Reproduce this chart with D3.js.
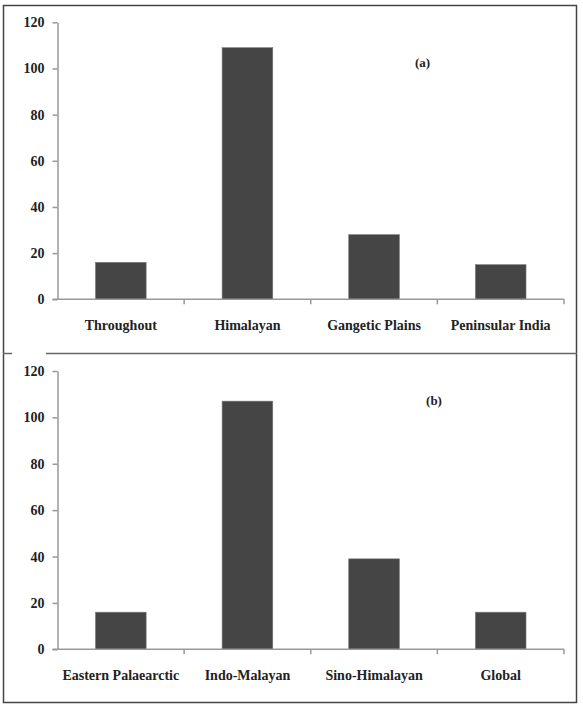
<!DOCTYPE html>
<html>
<head>
<meta charset="utf-8">
<script src="https://cdn.jsdelivr.net/npm/d3@7"></script>
<style>
  body { margin: 0; background: #fff; }
  svg { display: block; }
  .tick text, .cat, .tag { font-family: "Liberation Serif", "Times New Roman", serif; font-weight: bold; fill: #222; }
</style>
</head>
<body>
<svg id="chart" width="583" height="709"></svg>
<script>
// panel (a): distribution within India
const catsA = ["Throughout", "Himalayan", "Gangetic Plains", "Peninsular India"]
const valsA = [16, 109, 28, 15]
// panel (b): zoogeographic affinity
const catsB = ["Eastern Palaearctic", "Indo-Malayan", "Sino-Himalayan", "Global"]
const valsB = [16, 107, 39, 16]
const yTicks = [0, 20, 40, 60, 80, 100, 120]

const svg = d3.select("#chart")
const left = 57.5, right = 564

// frame round both panels
svg.append("rect")
  .attr("x", 3.5).attr("y", 5.5)
  .attr("width", 573).attr("height", 697)
  .attr("fill", "none").attr("stroke", "#444").attr("stroke-width", 1.5)
// divider between the panels, with its little gap on the left
svg.append("line").attr("x1", 3).attr("x2", 12).attr("y1", 353.5).attr("y2", 353.5)
  .attr("stroke", "#666").attr("stroke-width", 1.5)
svg.append("line").attr("x1", 46).attr("x2", 577).attr("y1", 353.5).attr("y2", 353.5)
  .attr("stroke", "#666").attr("stroke-width", 1.5)

function panel(cats, vals, top, bottom, tag, tagX, tagY) {
  const x = d3.scaleBand().domain(cats).range([left, right]).padding(0)
  const y = d3.scaleLinear().domain([0, 120]).range([bottom, top])
  const g = svg.append("g")

  // y axis
  const ya = g.append("g")
    .attr("transform", "translate(" + left + ",0)")
    .call(d3.axisLeft(y).tickValues(yTicks).tickSize(5).tickSizeOuter(0).tickPadding(8))
  ya.select(".domain").attr("stroke", "#999").attr("stroke-width", 1.5)
  ya.selectAll(".tick line").attr("stroke", "#999").attr("stroke-width", 1.5)
  ya.selectAll(".tick text").style("font-size", "14px")

  // bars
  g.selectAll("rect.bar")
    .data(vals)
    .join("rect")
      .attr("class", "bar")
      .attr("x", (d, i) => x(cats[i]) + x.bandwidth() * 0.3)
      .attr("width", x.bandwidth() * 0.4)
      .attr("y", d => y(d))
      .attr("height", d => y(0) - y(d))
      .attr("fill", "#454545")
      .attr("stroke", "#777")
      .attr("stroke-width", 0.6)

  // x axis line + boundary ticks
  g.append("line")
    .attr("x1", left - 5).attr("x2", right)
    .attr("y1", y(0)).attr("y2", y(0))
    .attr("stroke", "#999").attr("stroke-width", 1.5)
  const edges = cats.slice(1).map(c => x(c)).concat([x.range()[1]])
  g.selectAll("line.edge")
    .data(edges)
    .join("line")
      .attr("class", "edge")
      .attr("x1", d => d).attr("x2", d => d)
      .attr("y1", y(0)).attr("y2", y(0) + 5)
      .attr("stroke", "#999").attr("stroke-width", 1.5)

  // category labels
  g.selectAll("text.cat")
    .data(cats)
    .join("text")
      .attr("class", "cat")
      .attr("x", d => x(d) + x.bandwidth() / 2)
      .attr("y", y(0) + 31)
      .attr("text-anchor", "middle")
      .style("font-size", "14px")
      .text(d => d)

  g.append("text")
    .attr("class", "tag")
    .attr("x", tagX).attr("y", tagY)
    .attr("text-anchor", "middle")
    .style("font-size", "13px")
    .text(tag)
}

panel(catsA, valsA, 22.3, 299.3, "(a)", 422.5, 66.5)
panel(catsB, valsB, 371, 649.3, "(b)", 434, 404.5)
</script>
</body>
</html>
